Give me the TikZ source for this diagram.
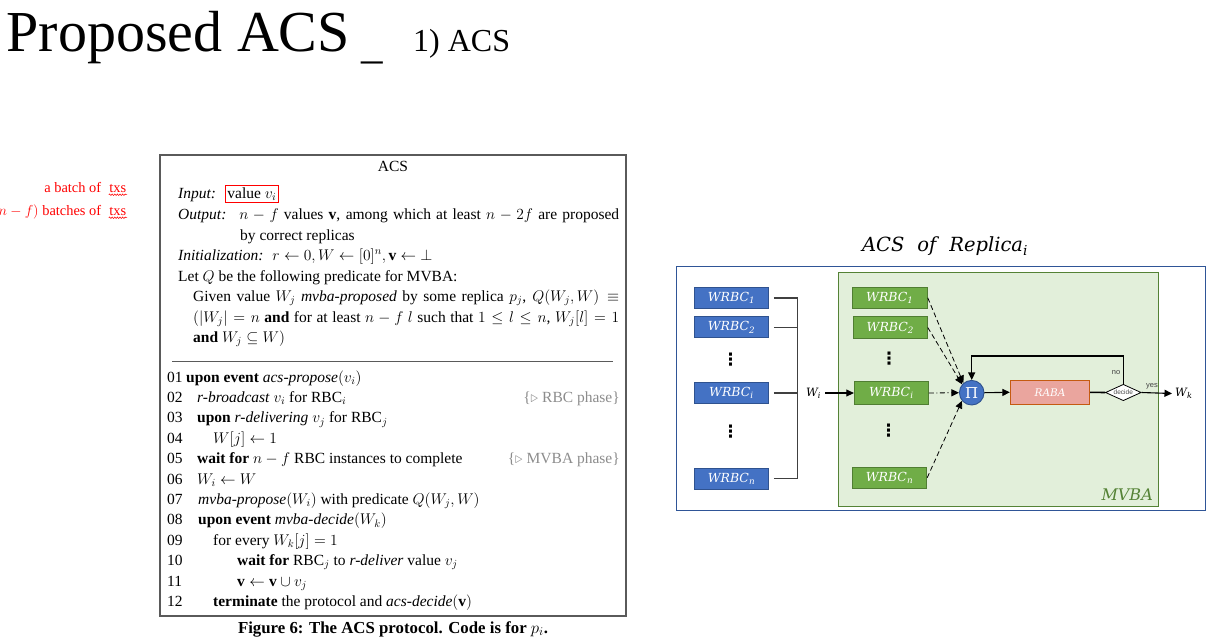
\RequirePackage{fix-cm}
\documentclass[tikz,border=0pt]{standalone}
\usepackage{fontspec}
\setmainfont{Liberation Serif}
\newfontfamily\lsans{Liberation Sans}
\newfontfamily\dvs{DejaVu Serif}
\newfontfamily\dvsans{DejaVu Sans}
\usetikzlibrary{arrows.meta,shapes.geometric,decorations.pathmorphing}
\definecolor{bluefl}{HTML}{4472C4}
\definecolor{bluebd}{HTML}{2F528F}
\definecolor{greenfl}{HTML}{70AD47}
\definecolor{greenbd}{HTML}{507E32}
\definecolor{mvbafl}{HTML}{E2EFDA}
\definecolor{mvbabd}{HTML}{548235}
\definecolor{rabafl}{HTML}{EAA59E}
\definecolor{rababd}{HTML}{C55A11}
\definecolor{outerbd}{HTML}{2F5597}
\definecolor{cmtgray}{HTML}{8C8C8C}
\definecolor{boxgray}{HTML}{5A5A5A}
\definecolor{annred}{HTML}{FF0000}
\newcommand\algfont{\fontsize{15.5}{18}\selectfont}
\begin{document}
\begin{tikzpicture}[x=1pt,y=-1pt,
  alg/.style={anchor=base west,inner sep=0pt,font=\algfont},
  cmt/.style={anchor=base east,inner sep=0pt,font=\algfont,text=cmtgray},
  ann/.style={anchor=base east,inner sep=0.5pt,font=\fontsize{14.4}{16}\selectfont,text=annred},
  squig/.style={draw=annred,line width=0.5pt,decorate,decoration={snake,amplitude=0.8pt,segment length=2.6pt}},
  wb/.style={draw=bluebd,fill=bluefl,line width=0.9pt,minimum width=74pt,minimum height=21pt,inner sep=0pt,text=white,font=\dvs\itshape\fontsize{12.5}{14}\selectfont},
  wg/.style={draw=greenbd,fill=greenfl,line width=0.9pt,minimum width=74pt,minimum height=21pt,inner sep=0pt,text=white,font=\dvs\itshape\fontsize{12.5}{14}\selectfont},
  vd/.style={inner sep=0pt,font=\dvsans\bfseries\fontsize{17}{18}\selectfont},
  tip/.style={-{Triangle[length=7.5pt,width=7pt]}},
  conn/.style={line width=1.1pt,black},
  brk/.style={line width=1.2pt,draw=black!75},
  dsh/.style={line width=0.8pt,dash pattern=on 5pt off 3pt},
  dshdot/.style={line width=0.8pt,dash pattern=on 5pt off 2.5pt on 1.2pt off 2.5pt},
  small/.style={inner sep=0pt,font=\lsans\fontsize{7.5}{9}\selectfont,text=black!75}
]
\useasboundingbox (0,0) rectangle (1211,643);

% ---------- title ----------
\node[anchor=base west,inner sep=0pt,font=\fontsize{58}{60}\selectfont] (title) at (6.5,51.7) {Proposed ACS};
\node[anchor=base west,inner sep=0pt,font=\fontsize{43}{45}\selectfont] (us) at (361.7,58) {\_};
\node[anchor=base west,inner sep=0pt,font=\fontsize{32}{34}\selectfont] (subt) at (413,51.7) {1) ACS};

% ---------- red annotations ----------
\node[ann] (tx1) at (127,192.7) {txs};
\node[ann] (an1) at ([xshift=-7pt]tx1.base west) {a batch of};
\node[ann] (tx2) at (127,215.7) {txs};
\node[ann] (an2) at ([xshift=-7pt]tx2.base west) {$(n-f)$ batches of};
\draw[squig] ([yshift=-1.2pt]tx1.south west) -- ([yshift=-1.2pt]tx1.south east);
\draw[squig] ([yshift=-1.2pt]tx2.south west) -- ([yshift=-1.2pt]tx2.south east);

% ---------- algorithm box ----------
\draw[draw=boxgray,line width=1.1pt] (160,155) rectangle (626,616);
\node[anchor=base,inner sep=0pt,font=\algfont] (acs) at (393,171) {ACS};
\node[alg] (inp) at (178,198) {\textit{Input:}};
\node[alg,draw=annred,line width=0.8pt,inner sep=2pt] (val) at (225,198) {value $v_i$};
\node[alg] (out) at (178,219) {\makebox[441pt][s]{\textit{Output:} \ $n-f$ values $\mathbf{v}$, among which at least $n-2f$ are proposed}};
\node[alg] (out2) at (240,240) {by correct replicas};
\node[alg] (ini) at (178,260) {\textit{Initialization:} \ $r\leftarrow 0, W\leftarrow [0]^n, \mathbf{v}\leftarrow\bot$};
\node[alg] (letq) at (178,281) {Let $Q$ be the following predicate for MVBA:};
\node[alg] (giv) at (193,301) {\makebox[426pt][s]{Given value $W_j$ \textit{mvba-proposed} by some replica $p_j$, $Q(W_j,W)\equiv$}};
\node[alg] (cond) at (193,322) {\makebox[426pt][s]{$(|W_j|=n$ \textbf{and} for at least $n-f$ $l$ such that $1\le l\le n$, $W_j[l]=1$}};
\node[alg] (cond2) at (193,342) {\textbf{and} $W_j\subseteq W)$};
\draw[draw=boxgray,line width=0.6pt] (172,361) -- (613,361);

\node[alg] (n01) at (167,382) {01};
\node[alg] (c01) at (186,382) {\textbf{upon event} \textit{acs-propose}$(v_i)$};
\node[alg] (n02) at (167,402.4) {02};
\node[alg] (c02) at (197,402.4) {\textit{r-broadcast} $v_i$ for RBC$_i$};
\node[cmt] (k02) at (620,402.4) {\{$\triangleright$ RBC phase\}};
\node[alg] (n03) at (167,422.8) {03};
\node[alg] (c03) at (197,422.8) {\textbf{upon} \textit{r-delivering} $v_j$ for RBC$_j$};
\node[alg] (n04) at (167,443.2) {04};
\node[alg] (c04) at (213,443.2) {$W[j]\leftarrow 1$};
\node[alg] (n05) at (167,463.6) {05};
\node[alg] (c05) at (197,463.6) {\textbf{wait for} $n-f$ RBC instances to complete};
\node[cmt] (k05) at (620,463.6) {\{$\triangleright$ MVBA phase\}};
\node[alg] (n06) at (167,484) {06};
\node[alg] (c06) at (197,484) {$W_i\leftarrow W$};
\node[alg] (n07) at (167,504.4) {07};
\node[alg] (c07) at (198,504.4) {\textit{mvba-propose}$(W_i)$ with predicate $Q(W_j,W)$};
\node[alg] (n08) at (167,524.8) {08};
\node[alg] (c08) at (198,524.8) {\textbf{upon event} \textit{mvba-decide}$(W_k)$};
\node[alg] (n09) at (167,545.2) {09};
\node[alg] (c09) at (213,545.2) {for every $W_k[j]=1$};
\node[alg] (n10) at (167,565.6) {10};
\node[alg] (c10) at (237,565.6) {\textbf{wait for} RBC$_j$ to \textit{r-deliver} value $v_j$};
\node[alg] (n11) at (167,586) {11};
\node[alg] (c11) at (237,586) {$\mathbf{v}\leftarrow\mathbf{v}\cup v_j$};
\node[alg] (n12) at (167,606.4) {12};
\node[alg] (c12) at (213,606.4) {\textbf{terminate} the protocol and \textit{acs-decide}$(\mathbf{v})$};
\node[anchor=base,inner sep=0pt,font=\fontsize{16.8}{18}\selectfont] (cap) at (393,633) {\textbf{Figure 6: The ACS protocol. Code is for $p_i$.}};

% ---------- right diagram ----------
\node[anchor=base,inner sep=0pt,font=\dvs\itshape\fontsize{19.5}{22}\selectfont] (rtitle) at (945,251.7) {ACS\hspace{13pt}of\hspace{13pt}Replica\textsubscript{i}};
\node[draw=outerbd,line width=1.1pt,minimum width=529.5pt,minimum height=244.5pt,inner sep=0pt,anchor=north west] (outer) at (675.5,265.5) {};
\node[draw=mvbabd,fill=mvbafl,line width=1pt,minimum width=320pt,minimum height=233.4pt,inner sep=0pt,anchor=north west] (mvba) at (838.3,272.3) {};
\node[anchor=base east,inner sep=0pt,text=mvbabd,font=\dvs\itshape\fontsize{16}{18}\selectfont] (mvbalab) at (1153,500) {MVBA};

\node[wb] (b1) at (731.5,298) {WRBC\textsubscript{1}};
\node[wb] (b2) at (731.5,327.3) {WRBC\textsubscript{2}};
\node[vd] (bd1) at (730.5,360) {⋮};
\node[wb] (bi) at (731.5,393) {WRBC\textsubscript{i}};
\node[vd] (bd2) at (730.5,431.5) {⋮};
\node[wb] (bn) at (731.5,478.5) {WRBC\textsubscript{n}};

\coordinate (jx) at (797.5,0);
\draw[brk] ([xshift=5pt]b1.east) -- (b1.east -| jx);
\draw[brk] ([xshift=5pt]b2.east) -- (b2.east -| jx);
\draw[brk] ([xshift=5pt]bi.east) -- (bi.east -| jx);
\draw[brk] ([xshift=5pt]bn.east) -- (bn.east -| jx);
\draw[brk] (b1.east -| jx) -- (bn.east -| jx);

\node[inner sep=0pt,font=\dvs\itshape\fontsize{11.5}{13}\selectfont] (wi) at (813.5,393) {W\textsubscript{i}};

\node[wg,minimum width=75pt] (g1) at (889.8,297.8) {WRBC\textsubscript{1}};
\node[wg,minimum height=21.6pt] (g2) at (890.3,327.5) {WRBC\textsubscript{2}};
\node[vd] (gd1) at (889,359) {⋮};
\node[wg,minimum height=22.6pt] (gi) at (891.3,393) {WRBC\textsubscript{i}};
\node[vd] (gd2) at (888.5,430.5) {⋮};
\node[wg,minimum width=74.4pt] (gn) at (889.5,477.8) {WRBC\textsubscript{n}};

\draw[conn,tip] ([xshift=4pt]wi.east) -- (gi.west);

\node[circle,draw=bluebd,fill=bluefl,line width=0.9pt,minimum size=24.6pt,inner sep=0pt,text=white,font=\dvs\fontsize{15}{16}\selectfont] (pi) at (971.7,392.7) {Π};
\node[draw=rababd,fill=rabafl,line width=0.9pt,minimum width=79.4pt,minimum height=24pt,inner sep=0pt,text=white,font=\dvs\itshape\fontsize{10.5}{12}\selectfont] (raba) at (1050,392.3) {RABA};
\node[diamond,draw=black,fill=white,line width=0.8pt,aspect=2.2,minimum width=35.7pt,minimum height=16.4pt,inner sep=0pt,font=\lsans\fontsize{6.5}{7}\selectfont,text=black!70] (dec) at (1123.3,392.5) {decide};

\draw[dsh,tip] (g1.east) -- (pi.131);
\draw[dsh,tip] (g2.east) -- (pi.139);
\draw[dshdot,tip] (gi.east) -- (pi.west);
\draw[dsh,tip] (gn.east) -- (pi.220);

\draw[conn,tip] (pi.east) -- (raba.west);
\draw[line width=1.6pt] (raba.east) -- (dec.west);
\coordinate (loopy) at (0,356);
\draw[conn,tip] (dec.north) -- (dec.north |- loopy) -- (pi.north |- loopy) -- (pi.north);
\node[small,anchor=south east] (no) at (1120.5,375) {no};
\node[inner sep=0pt,anchor=west,font=\dvs\itshape\fontsize{11.5}{13}\selectfont] (wk) at (1175,393.5) {W\textsubscript{k}};
\draw[conn,tip] (dec.east) -- ([xshift=-3pt]wk.west);
\node[small,anchor=south] (yes) at (1152,389) {yes};
\end{tikzpicture}
\end{document}
